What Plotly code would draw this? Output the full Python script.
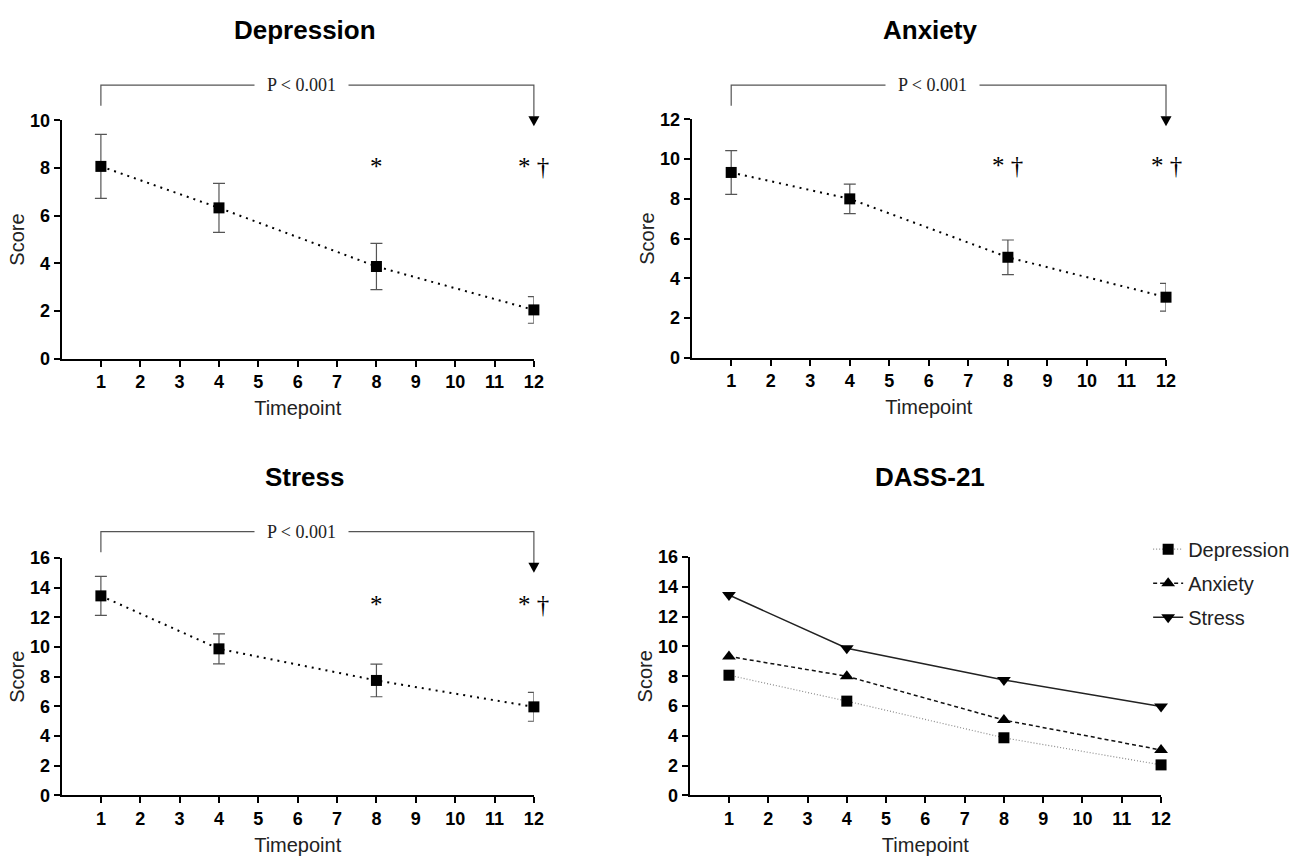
import plotly.graph_objects as go

# ---------------- data ----------------
timepoints = [1, 4, 8, 12]
x_tick_vals = list(range(1, 13))

depression_mean = [8.07, 6.33, 3.87, 2.05]
depression_err = [1.34, 1.03, 0.97, 0.56]
anxiety_mean = [9.33, 8.00, 5.06, 3.05]
anxiety_err = [1.10, 0.74, 0.87, 0.70]
stress_mean = [13.45, 9.88, 7.75, 5.97]
stress_err = [1.31, 1.01, 1.10, 0.97]

panel_titles = ["Depression", "Anxiety", "Stress", "DASS-21"]
series_names = ["Depression", "Anxiety", "Stress"]
y_max = [10, 12, 16, 16]
y_dtick = [2, 2, 2, 2]
x_range = [0, 12]
p_label = "P < 0.001"
p_label_x = 6.1
sig_marks = [
    [(8, "*"), (12, "* †")],
    [(8, "* †"), (12, "* †")],
    [(8, "*"), (12, "* †")],
]
bracket_from, bracket_to = 1, 12

# ---------------- layout geometry (pixels) ----------------
W, H = 1307, 866
panels_px = [(62, 538, 113, 357), (697, 1175, 112, 356),
             (62, 538, 561, 804), (695, 1170, 560, 804)]
# bracket line y, left leg bottom, arrow tip
brackets_px = [(77, 98, 119), (77, 98, 119), (534, 555, 576)]
title_y_px = [20, 20, 478, 478]
title_x_px = [307, 937, 307, 937]


def px_x(v):
    return v / W


def px_y(v):
    return 1 - v / H


def frac(t):
    return (t - x_range[0]) / (x_range[1] - x_range[0])


fig = go.Figure()

means = [depression_mean, anxiety_mean, stress_mean]
errs = [depression_err, anxiety_err, stress_err]

for i in range(3):
    ax = "" if i == 0 else str(i + 1)
    fig.add_trace(go.Scatter(
        x=timepoints, y=means[i],
        error_y=dict(type="data", array=errs[i], color="#555555",
                     thickness=1.2, width=6),
        mode="lines+markers",
        line=dict(color="black", width=2, dash="2px,5px"),
        marker=dict(symbol="square", size=11, color="black"),
        xaxis="x" + ax, yaxis="y" + ax, showlegend=False,
        cliponaxis=False,
    ))

styles = [
    dict(line=dict(color="#8a8a8a", width=1.2, dash="1px,2px"),
         marker=dict(symbol="square", size=11, color="black")),
    dict(line=dict(color="#111111", width=1.5, dash="4px,3px"),
         marker=dict(symbol="triangle-up", size=12, color="black")),
    dict(line=dict(color="#222222", width=1.5),
         marker=dict(symbol="triangle-down", size=12, color="black")),
]
for k in range(3):
    fig.add_trace(go.Scatter(
        x=timepoints, y=means[k], name=series_names[k],
        mode="lines+markers", xaxis="x4", yaxis="y4",
        legendgroup=series_names[k], cliponaxis=False,
        **styles[k]
    ))

axis_common = dict(showgrid=False, zeroline=False, showline=True,
                   linecolor="black", linewidth=2, ticks="outside",
                   ticklen=6, tickwidth=2, tickcolor="black",
                   tickfont=dict(family="Liberation Sans", size=18,
                                 color="black", weight="bold"))

layout = dict(width=W, height=H, margin=dict(l=0, r=0, t=0, b=0),
              plot_bgcolor="white", paper_bgcolor="white",
              showlegend=True,
              legend=dict(x=px_x(1157), y=px_y(532), xanchor="left",
                          yanchor="top", traceorder="grouped",
                          tracegroupgap=5, itemwidth=30,
                          font=dict(family="Liberation Sans", size=20,
                                    color="#222")),
              font=dict(family="Liberation Sans"))

for i, (x0, x1, y0, y1) in enumerate(panels_px):
    ax = "" if i == 0 else str(i + 1)
    layout["xaxis" + ax] = dict(
        axis_common, domain=[px_x(x0), px_x(x1)], range=x_range,
        tickvals=x_tick_vals, anchor="y" + ax,
        title=dict(text="Timepoint", standoff=10,
                   font=dict(family="Liberation Sans", size=20, color="#222")))
    layout["yaxis" + ax] = dict(
        axis_common, domain=[px_y(y1), px_y(y0)], range=[0, y_max[i]],
        dtick=y_dtick[i], anchor="x" + ax,
        title=dict(text="Score", standoff=0,
                   font=dict(family="Liberation Sans", size=20, color="#222")))

fig.update_layout(**layout)

annotations = []
shapes = []
for i in range(4):
    annotations.append(dict(
        text="<b>" + panel_titles[i] + "</b>", x=px_x(title_x_px[i]),
        y=px_y(title_y_px[i]), xref="paper", yref="paper",
        showarrow=False, xanchor="center", yanchor="middle",
        font=dict(family="Liberation Sans", size=26, color="black")))

for i in range(3):
    ax = "" if i == 0 else str(i + 1)
    yb, yl, yt = brackets_px[i]
    fl, fr = frac(bracket_from), frac(bracket_to)
    shapes.append(dict(
        type="path", xref="x" + ax + " domain", yref="paper",
        path=(f"M{fl},{px_y(yl)} L{fl},{px_y(yb)} L{fr},{px_y(yb)} "
              f"L{fr},{px_y(yt - 10)}"),
        line=dict(color="#555555", width=1.2)))
    shapes.append(dict(
        type="path", xref="x" + ax + " domain", yref="paper",
        xsizemode="pixel", ysizemode="pixel", xanchor=fr, yanchor=px_y(yt),
        path="M-5.5,10 L5.5,10 L0,0 Z", fillcolor="black",
        line=dict(width=0)))
    annotations.append(dict(
        text=p_label, x=p_label_x, xref="x" + ax, y=px_y(yb), yref="paper",
        showarrow=False, bgcolor="white", borderpad=12,
        xanchor="center", yanchor="middle",
        font=dict(family="Liberation Serif", size=18, color="#222")))
    for t, s in sig_marks[i]:
        annotations.append(dict(
            text=s, x=t, xref="x" + ax, y=0.805, yref="y" + ax + " domain",
            showarrow=False, xanchor="center", yanchor="middle",
            font=dict(family="Liberation Serif", size=25, color="black")))

fig.update_layout(annotations=annotations, shapes=shapes)
fig.write_html("out.html")
